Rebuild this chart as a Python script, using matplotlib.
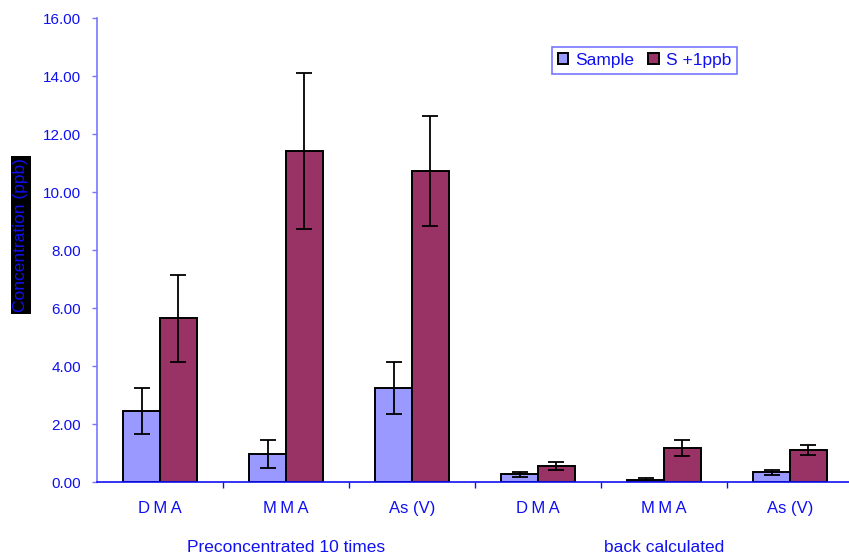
import numpy as np
import matplotlib
matplotlib.use('Agg')
import matplotlib.pyplot as plt
import matplotlib.transforms as mtrans

plt.rcParams['font.family'] = ['Liberation Sans', 'DejaVu Sans']

# data
categories = ['D\u2009M\u2009A', 'M\u2009M\u2009A', 'As (V)', 'D\u2009M\u2009A', 'M\u2009M\u2009A', 'As (V)']
groups = ['Preconcentrated 10 times', 'back calculated']
sample = [2.46, 0.97, 3.24, 0.26, 0.08, 0.34]
sample_err = [0.79, 0.49, 0.90, 0.09, 0.05, 0.09]
spiked = [5.64, 11.41, 10.72, 0.55, 1.17, 1.10]
spiked_err = [1.50, 2.70, 1.90, 0.14, 0.28, 0.16]
series_names = ['Sample', 'S +1ppb']

blue_txt = '#1010f0'
c_sample = '#9999ff'
c_spiked = '#993366'

fig = plt.figure(figsize=(8.49, 5.59), dpi=100)
ax = fig.add_axes([97/849, 1-482/559, 756/849, 464/559])

x = np.arange(len(categories))
w = 0.29
ekw = dict(ecolor='black', elinewidth=1.3, capsize=5.5, capthick=1.3)
ax.bar(x - w/2, sample, w, yerr=sample_err, color=c_sample, edgecolor='black',
       linewidth=1.4, label=series_names[0], error_kw=ekw, zorder=2)
ax.bar(x + w/2, spiked, w, yerr=spiked_err, color=c_spiked, edgecolor='black',
       linewidth=1.4, label=series_names[1], error_kw=ekw, zorder=2)

ax.set_xlim(-0.5, len(categories) - 0.5)
ax.set_ylim(0, 16)
ax.set_yticks(np.arange(0, 17, 2))
ax.set_yticklabels(['%.2f' % v for v in np.arange(0, 17, 2)])

# ticks on group boundaries, labels at centres
ax.set_xticks(np.arange(0.5, len(categories) - 0.5, 1))
ax.set_xticklabels([])
ax.set_xticks(x, minor=True)
ax.set_xticklabels(categories, minor=True)
ax.tick_params(axis='x', which='major', direction='out', length=4, color=blue_txt, width=1)
ax.tick_params(axis='x', which='minor', length=0, pad=14, labelsize=12, labelcolor=blue_txt)
ax.tick_params(axis='y', direction='out', length=3.6, color='#7777ff', width=1,
               pad=8, labelsize=11, labelcolor=blue_txt)

for s in ['top', 'right']:
    ax.spines[s].set_visible(False)
ax.spines['left'].set_color('#7777ff')
ax.spines['bottom'].set_color(blue_txt)
ax.spines['left'].set_linewidth(1.2)
ax.spines['bottom'].set_linewidth(1.2)

# group labels below category labels
trans = mtrans.blended_transform_factory(ax.transData, fig.transFigure)
ax.text(1, 1-547/559, groups[0], transform=trans, ha='center', va='center',
        color=blue_txt, fontsize=12.5)
ax.text(4, 1-547/559, groups[1], transform=trans, ha='center', va='center',
        color=blue_txt, fontsize=12.5)

fig.text(21/849, 1-235/559, 'Concentration (ppb)', rotation=90, ha='center', va='center',
         color=blue_txt, fontsize=12.5,
         bbox=dict(facecolor='black', edgecolor='none', pad=1.5))

leg = ax.legend(loc='upper left', bbox_to_anchor=((552-97)/756, (482-47)/464), ncol=2,
                frameon=True, fancybox=False, edgecolor='#5555ff', borderaxespad=0,
                handlelength=0.6, handleheight=0.6, handletextpad=0.4, columnspacing=0.8,
                fontsize=12.5, borderpad=0.35)
leg.get_frame().set_linewidth(1.2)
for t in leg.get_texts():
    t.set_color(blue_txt)

fig.savefig('out.png', dpi=100)
